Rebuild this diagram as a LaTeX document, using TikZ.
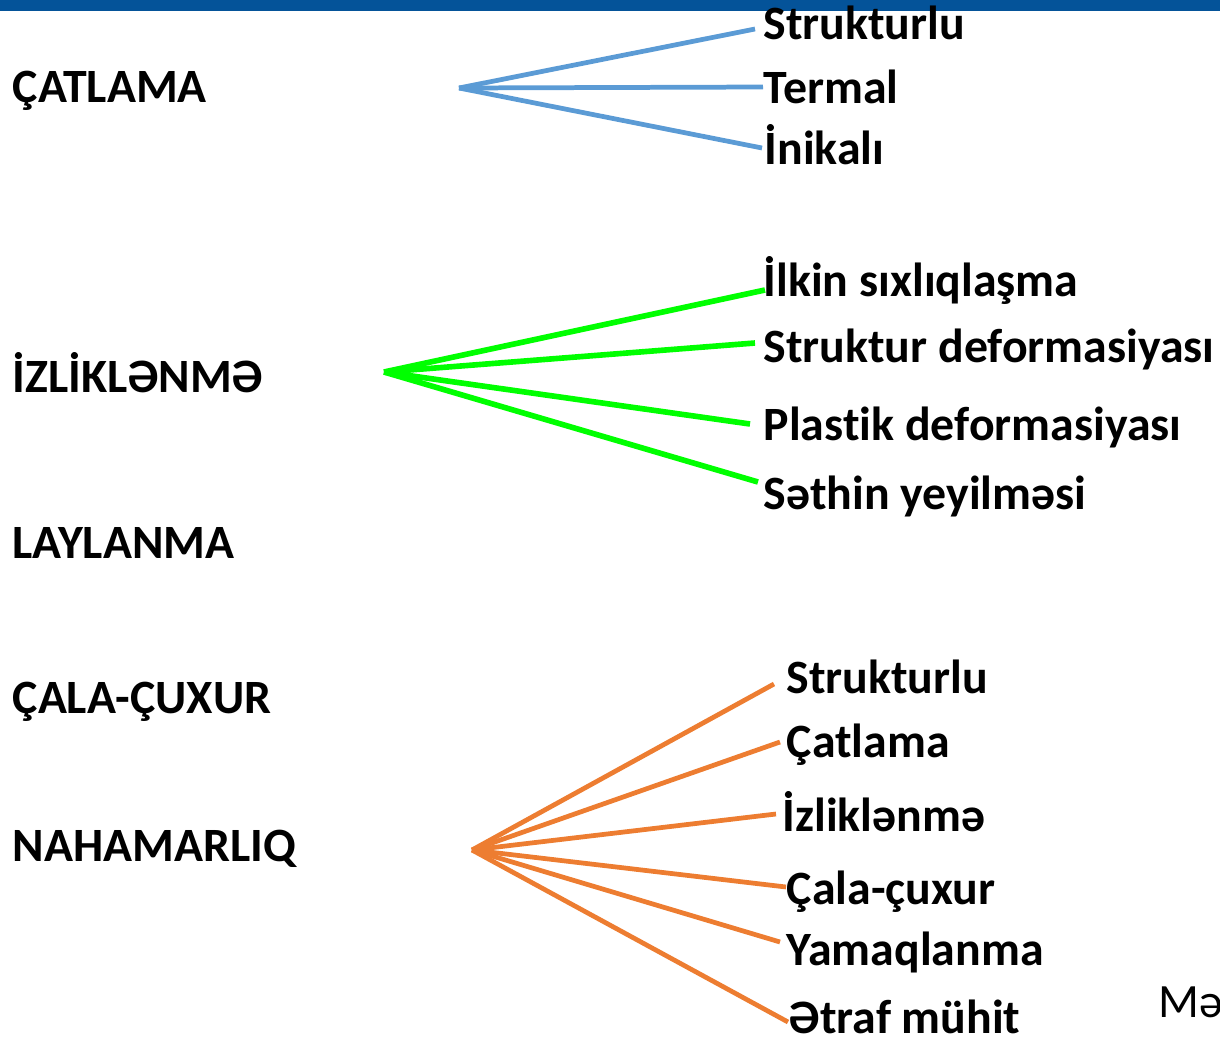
\documentclass[tikz,border=0pt]{standalone}
\usepackage{fontspec}
\setmainfont[Ligatures=NoCommon]{Carlito}
\begin{document}
\begin{tikzpicture}[x=0.01cm,y=-0.01cm,
  lbl/.style={anchor=base west,inner sep=0pt,font=\fontsize{13.6pt}{16pt}\selectfont\bfseries},
  note/.style={anchor=base west,inner sep=0pt,font=\fontsize{13.6pt}{16pt}\selectfont},
  blueline/.style={draw={rgb,255:red,91;green,155;blue,213},line width=1.35pt},
  greenline/.style={draw={rgb,255:red,0;green,255;blue,0},line width=1.6pt},
  orangeline/.style={draw={rgb,255:red,237;green,125;blue,49},line width=1.35pt}]
\useasboundingbox (0,0) rectangle (1220,1039);
\fill[fill={rgb,255:red,4;green,83;blue,153}] (0,0) rectangle (1220,11);

% left column headings
\node[lbl] (catlama) at (12,102) {ÇATLAMA};
\node[lbl] (izliklenme) at (12,392) {İZLİKLƏNMƏ};
\node[lbl] (laylanma) at (12,558) {LAYLANMA};
\node[lbl] (cala) at (12,713) {ÇALA-ÇUXUR};
\node[lbl] (nahamarliq) at (12,861) {NAHAMARLIQ};

% first group
\node[lbl] (b1) at (763,39) {Strukturlu};
\node[lbl] (b2) at (763,103) {Termal};
\node[lbl] (b3) at (764,164) {İnikalı};
\coordinate (bh) at (459,88);
\coordinate (be1) at (755,29);
\coordinate (be2) at (763,87);
\coordinate (be3) at (762,148);
\foreach \e in {be1,be2,be3} \draw[blueline] (bh) -- (\e);

% second group
\node[lbl] (g1) at (763,296) {İlkin sıxlıqlaşma};
\node[lbl] (g2) at (763,362) {Struktur deformasiyası};
\node[lbl] (g3) at (763,440) {Plastik deformasiyası};
\node[lbl] (g4) at (763,509) {Səthin yeyilməsi};
\coordinate (gh) at (384,372);
\coordinate (ge1) at (765,290);
\coordinate (ge2) at (755,343);
\coordinate (ge3) at (750,424);
\coordinate (ge4) at (758,482);
\foreach \e in {ge1,ge2,ge3,ge4} \draw[greenline] (gh) -- (\e);

% third group
\node[lbl] (o1) at (786,693) {Strukturlu};
\node[lbl] (o2) at (786,757) {Çatlama};
\node[lbl] (o3) at (782,831) {İzliklənmə};
\node[lbl] (o4) at (786,904) {Çala-çuxur};
\node[lbl] (o5) at (786,965) {Yamaqlanma};
\node[lbl] (o6) at (788,1033) {Ətraf mühit};
\coordinate (oh) at (472,850);
\coordinate (oe1) at (774,684);
\coordinate (oe2) at (780,742);
\coordinate (oe3) at (776,814);
\coordinate (oe4) at (786,887);
\coordinate (oe5) at (780,942);
\coordinate (oe6) at (788,1022);
\foreach \e in {oe1,oe2,oe3,oe4,oe5,oe6} \draw[orangeline] (oh) -- (\e);

\node[note] (m) at (1158,1017) {Mə};
\end{tikzpicture}
\end{document}
